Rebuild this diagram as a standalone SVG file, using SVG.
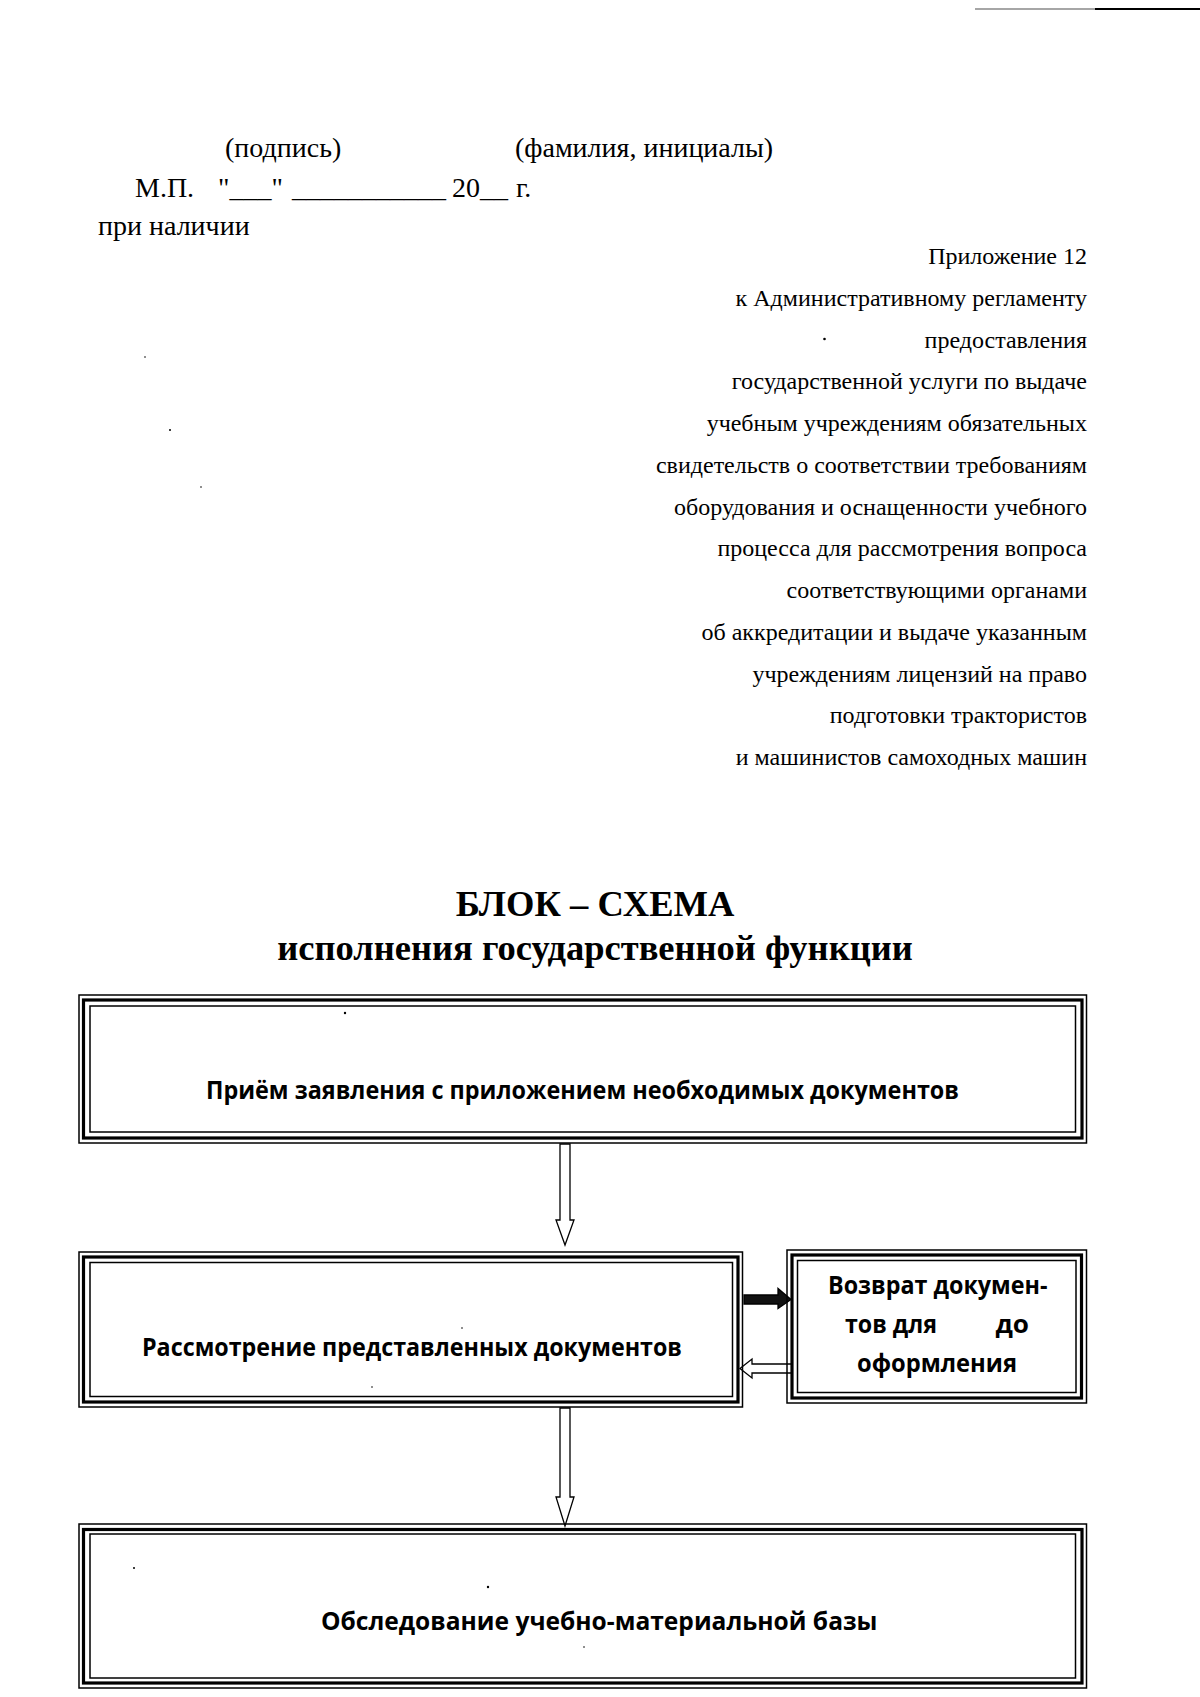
<svg xmlns="http://www.w3.org/2000/svg" width="1200" height="1697" viewBox="0 0 1200 1697">
<style>
.ser{font-family:"Liberation Serif","Times New Roman",serif;fill:#000}
.sig{font-size:28px}
.app{font-size:24px;text-anchor:end}
.ttl{font-size:36.5px;font-weight:bold;text-anchor:middle}
.bx{font-family:"Open Sans","Noto Sans","Liberation Sans",sans-serif;font-weight:bold;font-size:25.5px;fill:#000}
.o{fill:none;stroke:#000;stroke-width:1.5}
.t{fill:none;stroke:#000;stroke-width:3.2}
.i{fill:none;stroke:#000;stroke-width:1.5}
.wa{fill:#fff;stroke:#000;stroke-width:1.3;stroke-linejoin:miter}
.ba{fill:#111;stroke:#000;stroke-width:1.3}
.sp{fill:#000}
</style>
<rect width="1200" height="1697" fill="#fff"/>
<line x1="975" y1="9" x2="1095" y2="9" stroke="#888" stroke-width="1.5"/>
<line x1="1095" y1="9" x2="1200" y2="9" stroke="#000" stroke-width="2"/>

<g id="signature" class="ser sig">
<text x="225" y="157">(подпись)</text>
<text x="515" y="157">(фамилия, инициалы)</text>
<text x="135" y="197">М.П.</text>
<text x="218" y="197">"___"</text>
<text x="292" y="197">___________</text>
<text x="452" y="197">20__</text>
<text x="516" y="197">г.</text>
<text x="98" y="235">при наличии</text>
</g>

<g id="appendix" class="ser app">
<text x="1087" y="264">Приложение 12</text>
<text x="1087" y="305.7">к Административному регламенту</text>
<text x="1087" y="347.5">предоставления</text>
<text x="1087" y="389.2">государственной услуги по выдаче</text>
<text x="1087" y="431">учебным учреждениям обязательных</text>
<text x="1087" y="472.7">свидетельств о соответствии требованиям</text>
<text x="1087" y="514.5">оборудования и оснащенности учебного</text>
<text x="1087" y="556.2">процесса для рассмотрения вопроса</text>
<text x="1087" y="598">соответствующими органами</text>
<text x="1087" y="639.7">об аккредитации и выдаче указанным</text>
<text x="1087" y="681.5">учреждениям лицензий на право</text>
<text x="1087" y="723.2">подготовки трактористов</text>
<text x="1087" y="765">и машинистов самоходных машин</text>
</g>

<g id="title" class="ser ttl">
<text x="595" y="915.5">БЛОК – СХЕМА</text>
<text x="595" y="959.5">исполнения государственной функции</text>
</g>

<g id="connectors">
<path class="wa" d="M560,1144 V1220 H556 L565,1245 L574,1220 H570 V1144 Z"/>
<path class="wa" d="M560,1408 V1497 H556 L565,1526 L574,1497 H570 V1408 Z"/>
<path class="ba" d="M744,1295 H778 V1288.5 L791,1299.5 L778,1308.5 V1304 H744 Z"/>
<path class="wa" d="M792,1364 H752 V1359 L740,1368.5 L752,1378 V1373 H792 Z"/>
</g>

<g id="node1">
<rect class="o" x="79" y="995" width="1007.5" height="148"/>
<rect class="t" x="83.5" y="1000" width="998.5" height="138"/>
<rect class="i" x="90" y="1006" width="985.5" height="126"/>
<text class="bx" x="206" y="1099" textLength="753" lengthAdjust="spacingAndGlyphs">Приём заявления с приложением необходимых документов</text>
</g>

<g id="node2">
<rect class="o" x="79" y="1252" width="663.5" height="155"/>
<rect class="t" x="83.5" y="1257" width="654.5" height="145"/>
<rect class="i" x="90" y="1262.5" width="642.5" height="134"/>
<text class="bx" x="142" y="1356" textLength="540" lengthAdjust="spacingAndGlyphs">Рассмотрение представленных документов</text>
</g>

<g id="node3">
<rect class="o" x="787" y="1250" width="299.5" height="153"/>
<rect class="t" x="792" y="1255" width="289.5" height="143"/>
<rect class="i" x="797.5" y="1260.5" width="278.5" height="132"/>
<text class="bx" x="828" y="1294" textLength="219.5" lengthAdjust="spacingAndGlyphs">Возврат докумен-</text>
<text class="bx" x="845" y="1333" textLength="92" lengthAdjust="spacingAndGlyphs">тов для</text>
<text class="bx" x="995.5" y="1333" textLength="33.5" lengthAdjust="spacingAndGlyphs">до</text>
<text class="bx" x="857" y="1372" textLength="160" lengthAdjust="spacingAndGlyphs">оформления</text>
</g>

<g id="node4">
<rect class="o" x="79" y="1524" width="1007.5" height="164"/>
<rect class="t" x="83.5" y="1529.5" width="998.5" height="153.5"/>
<rect class="i" x="90" y="1534" width="985.5" height="144"/>
<text class="bx" x="321" y="1630" textLength="556.5" lengthAdjust="spacingAndGlyphs">Обследование учебно-материальной базы</text>
</g>

<g id="specks" class="sp">
<circle cx="824.5" cy="339" r="1.3"/>
<circle cx="145" cy="357" r="0.8"/>
<circle cx="170" cy="430" r="1"/>
<circle cx="201" cy="487" r="0.8"/>
<circle cx="345" cy="1013" r="1.2"/>
<circle cx="462" cy="1328" r="0.8"/>
<circle cx="372" cy="1387" r="0.8"/>
<circle cx="134" cy="1568" r="1"/>
<circle cx="488" cy="1587" r="1.2"/>
<circle cx="584" cy="1647" r="0.8"/>
</g>
</svg>
